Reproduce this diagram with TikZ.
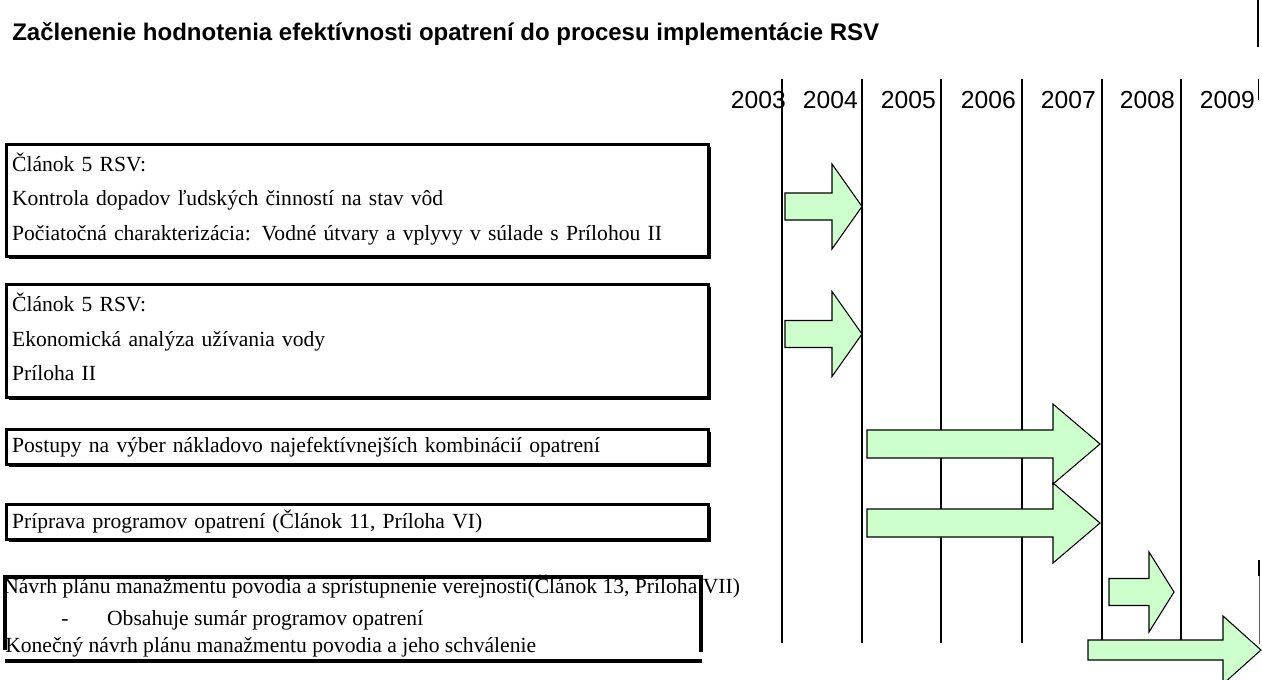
\documentclass[tikz,border=0pt]{standalone}
\usepackage{fontspec}
\usepackage{tikz}
\usetikzlibrary{positioning, calc, shadows}
\setmainfont{Liberation Serif}
\newfontfamily\headfont{Liberation Sans}
\newfontfamily\boxfont{Liberation Serif}
\definecolor{rsvgreen}{RGB}{204,255,204}
% block arrow: x start, x tip, y centre, shaft half, head half, head length
\newcommand{\timearrow}[6]{%
  \draw[greenarr] (#1,#3-#4) -- (#2-#6,#3-#4) -- (#2-#6,#3-#5) -- (#2,#3)
    -- (#2-#6,#3+#5) -- (#2-#6,#3+#4) -- (#1,#3+#4) -- cycle;}
\newcommand{\lowstrut}{\rule[-6pt]{0pt}{0pt}}

\begin{document}
\begin{tikzpicture}[x=0.75pt, y=-0.75pt,
  title/.style={font=\headfont\bfseries\fontsize{18}{21}\selectfont, inner sep=0pt},
  yearlbl/.style={font=\headfont\fontsize{18.5}{22}\selectfont, inner sep=0pt},
  yearline/.style={line width=2.2pt},
  framebox/.style={draw, line width=2.2pt, fill=white, anchor=north west, minimum width=526.5pt,
    text width=518pt, align=left, inner xsep=3pt, inner ysep=0pt,
    font=\boxfont\fontsize{16.2}{26}\selectfont,
    drop shadow={shadow xshift=1.6pt, shadow yshift=-1.6pt, fill=black, opacity=1}},
  plaintxt/.style={font=\boxfont\fontsize{16.2}{19}\selectfont, inner sep=0pt, anchor=base west},
  greenarr/.style={draw=black, line width=0.8pt, fill=rsvgreen, line join=miter}
]
\useasboundingbox (0,0) rectangle (1262,679);
\node[title, anchor=base west] (title) at (12,40) {Začlenenie hodnotenia efektívnosti opatrení do procesu implementácie RSV};
% years
\foreach \yr/\xe in {2003/786, 2004/858, 2005/936, 2006/1016, 2007/1096, 2008/1175, 2009/1255}
  \node[yearlbl, anchor=base east] (y\yr) at (\xe,108) {\yr};
\foreach \x in {782,862,941,1022,1102,1181}
  \draw[yearline] (\x,79) -- (\x,643);
\draw[line width=1.4pt] (1258,0) -- (1258,47);
\draw[line width=0.6pt] (1258,79) -- (1258,100);
\draw[line width=1.4pt] (1259,560) -- (1259,576);
\draw[line width=0.5pt, black!60] (1259,576) -- (1259,644);
% tasks
\node[framebox, minimum height=84pt] (b1) at (5,143)
  {Článok 5 RSV:\\Kontrola dopadov ľudských činností na stav vôd\\Počiatočná charakterizácia: Vodné útvary a vplyvy v súlade s Prílohou II\lowstrut};
\node[framebox, minimum height=84.75pt] (b2) at (5,283)
  {Článok 5 RSV:\\Ekonomická analýza užívania vody\\Príloha II\lowstrut};
\node[framebox, minimum height=26.25pt] (b3) at (5,428)
  {Postupy na výber nákladovo najefektívnejších kombinácií opatrení};
\node[framebox, minimum height=26.25pt] (b4) at (5,503)
  {Príprava programov opatrení (Článok 11, Príloha VI)};
\node[plaintxt] (b5a) at (3,593) {Návrh plánu manažmentu povodia a sprístupnenie verejnosti(Článok 13, Príloha VII)};
\node[plaintxt] (b5b) at (61,625) {-\hspace{29pt}Obsahuje sumár programov opatrení};
\node[plaintxt] (b5c) at (5,652) {Konečný návrh plánu manažmentu povodia a jeho schválenie};
\draw[line width=2.6pt] (5,650) -- (5,577) -- (701,577) -- (701,652);
\draw[line width=3.2pt] (5,661) -- (702,661);
% arrows
\timearrow{785}{862}{206.5}{13.5}{42.5}{30}
\timearrow{785}{862}{334}{13.5}{42.5}{30}
\timearrow{867}{1100}{444}{14}{40}{47}
\timearrow{867}{1100}{523}{14}{40}{47}
\timearrow{1109}{1174}{592}{13.5}{40}{25}
\timearrow{1088}{1261}{650}{10}{34}{38}
\end{tikzpicture}
\end{document}
